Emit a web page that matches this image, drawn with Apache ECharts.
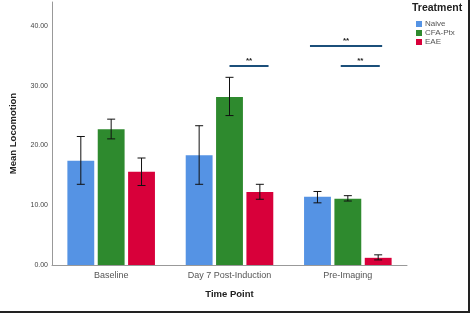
<!DOCTYPE html>
<html>
<head>
<meta charset="utf-8">
<script src="https://cdn.jsdelivr.net/npm/echarts@6/dist/echarts.min.js"></script>
<style>
  html, body { margin: 0; padding: 0; background: #fff; }
  #chart { width: 470px; height: 313px; }
</style>
</head>
<body>
<div id="chart"></div>
<script>
// categories and groups
const timePoints = ["Baseline", "Day 7 Post-Induction", "Pre-Imaging"];
const treatments = ["Naive", "CFA-Ptx", "EAE"];
const colors = ["#5593e4", "#2e8a2e", "#d8003a"];

// mean values per treatment (one value per time point)
const naiveMean = [17.45, 18.35, 11.4];
const cfaMean = [22.7, 28.1, 11.1];
const eaeMean = [15.6, 12.2, 1.2];

// error bar ranges [low, high]
const naiveErr = [[13.5, 21.5], [13.5, 23.3], [10.4, 12.3]];
const cfaErr = [[21.1, 24.4], [25.0, 31.4], [10.7, 11.6]];
const eaeErr = [[13.3, 17.9], [11.0, 13.5], [0.85, 1.7]];

// significance brackets: category, start/end offset (fraction of band), height
const sigCats = [1, 2, 2];
const sigFrom = [0.0, -0.32, -0.06];
const sigTo = [0.33, 0.29, 0.27];
const sigY = [33.3, 36.65, 33.3];
const sigLabel = ["**", "**", "**"];

const yTicks = [0, 10, 20, 30, 40];

const means = [naiveMean, cfaMean, eaeMean];
const errs = [naiveErr, cfaErr, eaeErr];

const BAR_FRAC = 0.227;
const GAP_FRAC = 0.13;

function barCenter(api, cat, i) {
  const band = api.size([1, 0])[0];
  const bw = band * BAR_FRAC;
  const gap = bw * GAP_FRAC;
  const groupW = 3 * bw + 2 * gap;
  const c = api.coord([cat, 0])[0];
  return c - groupW / 2 + bw / 2 + i * (bw + gap);
}

function errSeries(i) {
  return {
    type: "custom",
    name: treatments[i] + " err",
    z: 5,
    data: errs[i].map((e, k) => [k, e[0], e[1]]),
    renderItem: function (params, api) {
      const cat = api.value(0);
      const x = barCenter(api, cat, i);
      const yLo = api.coord([cat, api.value(1)])[1];
      const yHi = api.coord([cat, api.value(2)])[1];
      const cap = 4;
      const style = { stroke: "#111", lineWidth: 1 };
      return {
        type: "group",
        children: [
          { type: "line", shape: { x1: x, y1: yLo, x2: x, y2: yHi }, style: style },
          { type: "line", shape: { x1: x - cap, y1: yHi, x2: x + cap, y2: yHi }, style: style },
          { type: "line", shape: { x1: x - cap, y1: yLo, x2: x + cap, y2: yLo }, style: style }
        ]
      };
    }
  };
}

const chart = echarts.init(document.getElementById("chart"));

const barSeries = treatments.map((t, i) => ({
  name: t,
  type: "bar",
  data: means[i],
  barWidth: (BAR_FRAC * 100) + "%",
  barGap: (GAP_FRAC * 100) + "%",
  itemStyle: { color: colors[i] }
}));

chart.setOption({
  animation: false,
  title: {
    text: "Treatment",
    left: 412,
    top: 3,
    padding: 0,
    textStyle: { fontFamily: "Liberation Sans", fontSize: 10.5, fontWeight: "bold", color: "#222" }
  },
  legend: {
    data: treatments,
    orient: "vertical",
    left: 416,
    top: 20,
    padding: 0,
    itemWidth: 6,
    itemHeight: 6,
    itemGap: 1,
    icon: "rect",
    textStyle: { fontFamily: "Liberation Sans", fontSize: 8, color: "#555", padding: [0, 0, 0, -2] }
  },
  grid: { left: 50, right: 63, top: 2, bottom: 48 },
  xAxis: {
    type: "category",
    data: timePoints,
    name: "Time Point",
    nameLocation: "middle",
    nameGap: 24,
    nameTextStyle: { fontFamily: "Liberation Sans", fontSize: 9.5, fontWeight: "bold", color: "#222" },
    axisLine: { lineStyle: { color: "#999", width: 1 } },
    axisTick: { show: false },
    axisLabel: { fontFamily: "Liberation Sans", fontSize: 9, color: "#555", margin: 6 }
  },
  yAxis: {
    type: "value",
    min: 0,
    max: 44,
    interval: 10,
    name: "Mean Locomotion",
    nameLocation: "middle",
    nameGap: 34,
    nameTextStyle: { fontFamily: "Liberation Sans", fontSize: 9.5, fontWeight: "bold", color: "#222" },
    axisLine: { show: true, lineStyle: { color: "#999", width: 1 } },
    axisTick: { show: false },
    splitLine: { show: false },
    axisLabel: {
      fontFamily: "Liberation Sans",
      fontSize: 7,
      color: "#444",
      margin: 4,
      formatter: v => (yTicks.indexOf(v) >= 0 ? v.toFixed(2) : "")
    }
  },
  series: barSeries.concat([0, 1, 2].map(errSeries)).concat([{
    type: "custom",
    name: "sig",
    z: 6,
    data: sigCats.map((c, k) => [c, sigFrom[k], sigTo[k], sigY[k], k]),
    renderItem: function (params, api) {
      const cat = api.value(0);
      const band = api.size([1, 0])[0];
      const cx = api.coord([cat, 0])[0];
      const x1 = cx + api.value(1) * band;
      const x2 = cx + api.value(2) * band;
      const y = api.coord([cat, api.value(3)])[1];
      return {
        type: "group",
        children: [
          { type: "line", shape: { x1: x1, y1: y, x2: x2, y2: y }, style: { stroke: "#1b4f7a", lineWidth: 2 } },
          {
            type: "text",
            style: {
              text: sigLabel[api.value(4)],
              x: (x1 + x2) / 2,
              y: y - 1,
              textAlign: "center",
              textVerticalAlign: "bottom",
              font: "bold 8px Liberation Sans",
              fill: "#222"
            }
          }
        ]
      };
    }
  }]),
  graphic: [{
    type: "polyline",
    shape: { points: [[469, 0], [469, 312], [0, 312]] },
    style: { stroke: "#222", lineWidth: 2, fill: null }
  }]
});
</script>
</body>
</html>
